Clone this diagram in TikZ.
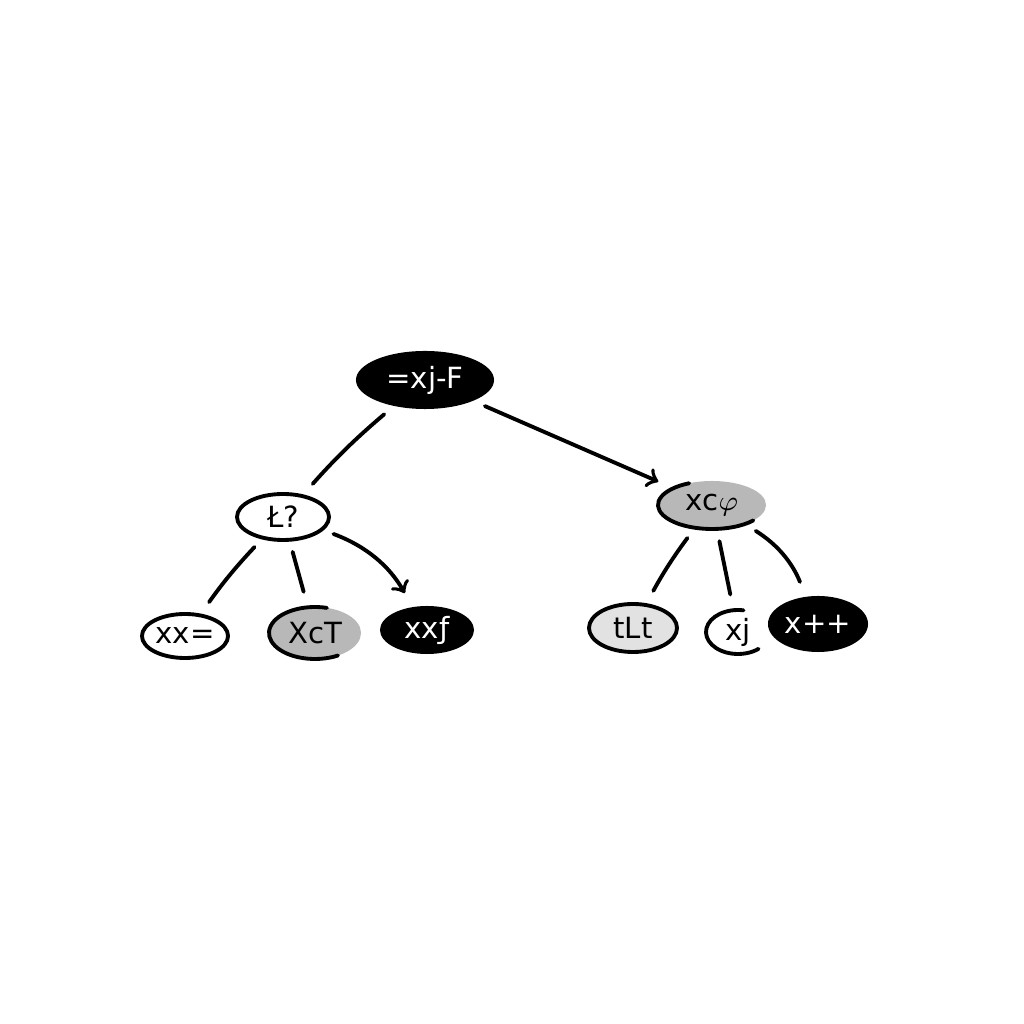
\documentclass[tikz,border=0pt]{standalone}
\usepackage{fontspec}
\setmainfont{DejaVu Sans}
\usetikzlibrary{shapes.geometric}
\definecolor{midgray}{HTML}{B8B8B8}
\definecolor{lightgray}{HTML}{E2E2E2}
\begin{document}
\begin{tikzpicture}[x=0.01cm, y=0.01cm, line width=1.1pt, line cap=round,
    every node/.style={ellipse, inner sep=0pt, font=\fontsize{8.3}{10}\selectfont},
    dark/.style={fill=black, text=white},
    open/.style={draw, fill=white},
    grey/.style={fill=midgray},
    pale/.style={draw, fill=lightgray},
    link/.style={shorten <=3pt, shorten >=4pt}]
    \useasboundingbox (0,0) rectangle (1024,1024);

    \node[dark, minimum width=1.38cm, minimum height=0.58cm] (R) at (425,644) {=xj-F};

    \node[open, minimum width=0.92cm, minimum height=0.46cm] (L) at (283,507) {Ł?};
    \node[grey, minimum width=1.08cm, minimum height=0.48cm] (G) at (712,519) {xc$\varphi$};
    \draw ([shift={(115:54 and 24)}]G.center) arc[start angle=115, end angle=320, x radius=54, y radius=24];

    \node[open, minimum width=0.86cm, minimum height=0.44cm] (L1) at (185,388) {xx=};
    \node[grey, minimum width=0.92cm, minimum height=0.52cm] (L2) at (315,391) {XcT};
    \draw ([shift={(75:46 and 26)}]L2.center) arc[start angle=75, end angle=300, x radius=46, y radius=26];
    \node[dark, minimum width=0.94cm, minimum height=0.48cm] (L3) at (427,394) {xxƒ};

    \node[pale, minimum width=0.88cm, minimum height=0.48cm] (G1) at (633,396) {tLt};
    \node[fill=white, minimum width=0.64cm, minimum height=0.44cm] (G2) at (738,392) {xj};
    \draw ([shift={(80:32 and 22)}]G2.center) arc[start angle=80, end angle=310, x radius=32, y radius=22];
    \node[dark, minimum width=1.00cm, minimum height=0.56cm] (G3) at (818,400) {x++};

    \draw[link] (R) to[bend right=4] (L);
    \draw[link, ->] (R) -- (G);

    \draw[link] (L) to[bend right=4] (L1);
    \draw[link] (L) -- (L2);
    \draw[link, ->] (L) to[bend left=20] (L3);

    \draw[link] (G) to[bend right=4] (G1);
    \draw[link] (G) -- (G2);
    \draw[link] (G) to[bend left=18] (G3);

\end{tikzpicture}
\end{document}
